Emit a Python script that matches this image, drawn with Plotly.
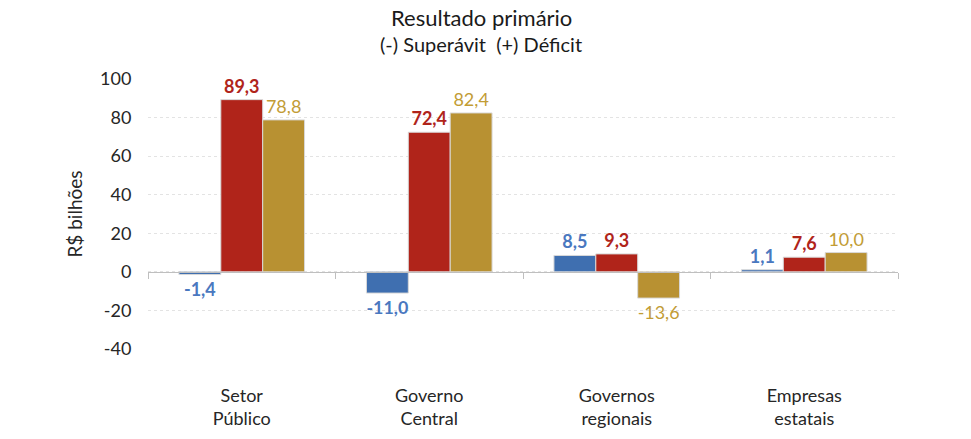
import plotly.graph_objects as go

categories = ['Setor<br>Público', 'Governo<br>Central', 'Governos<br>regionais', 'Empresas<br>estatais']
serie_1 = [-1.4, -11.0, 8.5, 1.1]
serie_2 = [89.3, 72.4, 9.3, 7.6]
serie_3 = [78.8, 82.4, -13.6, 10.0]
y_ticks = [-40, -20, 0, 20, 40, 60, 80, 100]

FONT = 'Lato'

def fmt(v):
    return f"{v:.1f}".replace('.', ',')

series = [
    (serie_1, '#3F6FB0', '#4A78BF', True),
    (serie_2, '#B0241A', '#B0241A', True),
    (serie_3, '#B89132', '#C29C35', False),
]

fig = go.Figure()

for values, color, text_color, bold in series:
    labels = [f"<b>{fmt(v)}</b>" if bold else fmt(v) for v in values]
    fig.add_trace(go.Bar(
        x=categories,
        y=values,
        marker=dict(color=color, line=dict(color='#D9D9D9', width=1)),
        text=labels,
        textposition='outside',
        textfont=dict(family=FONT, size=18, color=text_color),
        cliponaxis=False,
        showlegend=False
    ))

# decoration axis for the tick marks on the zero line
fig.add_trace(go.Scatter(x=[], y=[], xaxis='x2', yaxis='y', showlegend=False))

# page body adds 8px offset, margins compensate
fig.update_layout(
    barmode='group',
    bargap=0.33,
    bargroupgap=0,
    width=971,
    height=439,
    margin=dict(t=71, b=98, l=140, r=81),
    plot_bgcolor='white',
    paper_bgcolor='white',
    font=dict(family=FONT, size=18, color='#262626'),
)

# title + subtitle
fig.add_annotation(
    text='Resultado primário', xref='paper', yref='paper',
    x=0.444, y=1.0, yshift=62, xanchor='center', yanchor='middle',
    showarrow=False, font=dict(family=FONT, size=22, color='#1a1a1a')
)
fig.add_annotation(
    text='(-) Superávit&nbsp;&nbsp;(+) Déficit', xref='paper', yref='paper',
    x=0.444, y=1.0, yshift=35, xanchor='center', yanchor='middle',
    showarrow=False, font=dict(family=FONT, size=20, color='#1a1a1a')
)

fig.update_layout(
    # transparent ticks push the labels away from the plot
    xaxis=dict(
        type='category',
        range=[-0.5, 3.5],
        showline=False,
        showgrid=False,
        ticks='outside',
        ticklen=30,
        tickcolor='rgba(0,0,0,0)',
        automargin=False,
        tickfont=dict(family=FONT, size=18, color='#262626'),
    ),
    xaxis2=dict(
        overlaying='x',
        anchor='free',
        position=40 / 140,
        range=[-0.5, 3.5],
        tickvals=[-0.5, 0.5, 1.5, 2.5, 3.5],
        ticks='outside',
        ticklen=6,
        tickcolor='#BFBFBF',
        showticklabels=False,
        showline=True,
        linecolor='#BFBFBF',
        linewidth=1,
        showgrid=False,
        zeroline=False,
        automargin=False,
    ),
    yaxis=dict(
        range=[-40, 100],
        tickvals=y_ticks,
        ticktext=[str(v) for v in y_ticks],
        showgrid=True,
        gridcolor='#E3E3E3',
        griddash='dot',
        zeroline=False,
        ticks='outside',
        ticklen=12,
        tickcolor='rgba(0,0,0,0)',
        automargin=False,
        tickfont=dict(family=FONT, size=18, color='#262626'),
        title=dict(text='R$ bilhões', standoff=12, font=dict(family=FONT, size=19, color='#262626')),
    ),
)

fig.write_html("out.html")
